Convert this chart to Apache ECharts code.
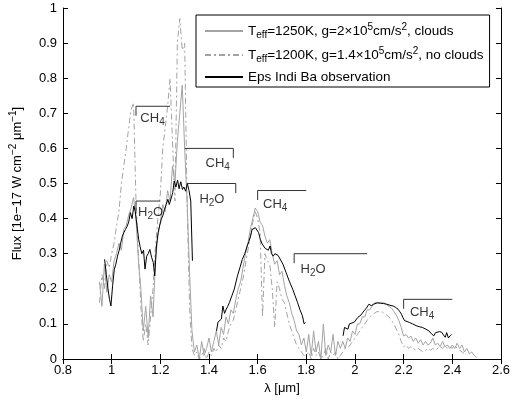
<!DOCTYPE html>
<html>
<head>
<meta charset="utf-8">
<script src="https://cdn.jsdelivr.net/npm/echarts@6/dist/echarts.min.js"></script>
<style>html,body{margin:0;padding:0;background:#fff}#main{width:513px;height:400px}</style>
</head>
<body>
<div id="main"></div>
<script>
// model spectra sampled every 0.01 um
var cloudStart = 0.95, nocloudStart = 0.95, step = 0.01;
var cloudFlux = [
	0.22,0.15,0.27,0.19,0.24,0.22,0.28,0.30,0.33,0.31,
	0.37,0.38,0.41,0.43,0.46,0.40,0.28,0.20,0.08,0.15,
	0.06,0.18,0.12,0.28,0.35,0.39,0.44,0.42,0.48,0.45,
	0.55,0.50,0.62,0.70,0.78,0.60,0.45,0.25,0.08,0.02,
	0.04,0.00,0.05,0.01,0.03,0.06,0.02,0.05,0.08,0.04,
	0.09,0.07,0.12,0.10,0.14,0.13,0.17,0.20,0.22,0.26,
	0.30,0.33,0.37,0.40,0.43,0.42,0.39,0.38,0.35,0.33,
	0.34,0.30,0.27,0.28,0.24,0.25,0.21,0.18,0.16,0.13,
	0.11,0.08,0.07,0.04,0.06,0.02,0.07,0.01,0.08,0.02,
	0.05,0.00,0.10,0.01,0.04,0.02,0.07,0.01,0.05,0.03,
	0.05,0.03,0.06,0.05,0.08,0.07,0.10,0.10,0.12,0.12,
	0.14,0.14,0.15,0.16,0.16,0.16,0.16,0.16,0.155,0.15,
	0.145,0.135,0.125,0.11,0.09,0.065,0.07,0.06,0.065,0.05,
	0.06,0.045,0.055,0.04,0.05,0.04,0.045,0.06,0.04,0.045,
	0.035,0.05,0.035,0.04,0.03,0.04,0.03,0.045,0.03,0.04,
	0.02,0.03,0.015,0.02,0.01,0.005
];
var nocloudFlux = [
	0.16,0.24,0.20,0.28,0.26,0.30,0.33,0.38,0.42,0.50,
	0.55,0.60,0.66,0.71,0.73,0.45,0.30,0.15,0.05,0.10,
	0.04,0.12,0.20,0.32,0.40,0.47,0.60,0.66,0.72,0.80,
	0.62,0.45,0.90,0.97,0.88,0.90,0.45,0.15,0.03,0.01,
	0.02,0.00,0.01,0.03,0.00,0.02,0.01,0.03,0.02,0.04,
	0.03,0.06,0.05,0.08,0.10,0.11,0.14,0.17,0.20,0.23,
	0.27,0.31,0.35,0.39,0.42,0.40,0.36,0.12,0.30,0.28,
	0.27,0.20,0.09,0.22,0.20,0.17,0.16,0.13,0.10,0.08,
	0.06,0.04,0.03,0.02,0.01,0.01,0.02,0.00,0.03,0.01,
	0.02,0.00,0.01,0.03,0.00,0.02,0.01,0.02,0.00,0.01,
	0.02,0.03,0.03,0.04,0.05,0.06,0.07,0.08,0.09,0.10,
	0.11,0.12,0.125,0.13,0.135,0.135,0.135,0.13,0.125,0.12,
	0.11,0.10,0.085,0.07,0.05,0.035,0.04,0.03,0.035,0.03,
	0.025,0.03,0.025,0.02,0.025,0.03,0.025,0.03,0.025,0.03,
	0.035,0.03,0.04,0.03,0.035,0.03,0.04,0.03,0.025,0.02,0.015
];
// Eps Indi Ba observation, three bands (J, H, K)
var obsJx = [0.971,0.978,0.985,0.991,0.997,1.004,1.011,1.017,1.024,1.031,1.037,1.044,1.050,1.057,1.064,1.070,1.077,1.084,1.091,1.097,1.104,1.111,1.117,1.124,1.131,1.137,1.144,1.150,1.157,1.164,1.171,1.177,1.184,1.191,1.197,1.204,1.211,1.217,1.224,1.231,1.237,1.244,1.251,1.257,1.264,1.271,1.277,1.284,1.291,1.297,1.304,1.311,1.318,1.325,1.332];
var obsJy = [0.284,0.24,0.20,0.17,0.151,0.21,0.256,0.27,0.293,0.31,0.33,0.35,0.36,0.369,0.379,0.39,0.417,0.40,0.436,0.421,0.38,0.341,0.32,0.30,0.31,0.256,0.293,0.30,0.312,0.29,0.275,0.237,0.322,0.36,0.38,0.398,0.41,0.426,0.44,0.455,0.44,0.436,0.474,0.507,0.49,0.51,0.485,0.505,0.483,0.49,0.478,0.50,0.48,0.45,0.28];
var obsHx = [1.431,1.437,1.444,1.451,1.457,1.464,1.471,1.477,1.484,1.494,1.504,1.517,1.527,1.537,1.547,1.557,1.564,1.571,1.577,1.584,1.591,1.597,1.604,1.611,1.617,1.624,1.631,1.637,1.644,1.651,1.657,1.664,1.671,1.677,1.684,1.691,1.704,1.717,1.731,1.744,1.754,1.764,1.774,1.784,1.791,1.797];
var obsHy = [0.08,0.105,0.10,0.114,0.151,0.13,0.142,0.15,0.161,0.18,0.199,0.237,0.26,0.284,0.30,0.322,0.335,0.35,0.369,0.365,0.374,0.37,0.36,0.341,0.33,0.322,0.315,0.317,0.31,0.322,0.30,0.293,0.30,0.303,0.295,0.293,0.27,0.246,0.22,0.199,0.18,0.161,0.14,0.123,0.10,0.104];
var obsKx = [1.951,1.957,1.964,1.971,1.977,1.984,1.997,2.011,2.024,2.037,2.047,2.057,2.067,2.077,2.091,2.104,2.117,2.131,2.144,2.157,2.167,2.177,2.184,2.191,2.197,2.204,2.214,2.224,2.237,2.251,2.264,2.277,2.291,2.304,2.314,2.324,2.331,2.337,2.347,2.357,2.364,2.371,2.377,2.384,2.391,2.397];
var obsKy = [0.066,0.09,0.095,0.085,0.10,0.099,0.105,0.118,0.125,0.137,0.145,0.156,0.152,0.156,0.16,0.159,0.158,0.156,0.153,0.151,0.147,0.142,0.135,0.128,0.118,0.109,0.107,0.104,0.10,0.095,0.092,0.09,0.085,0.08,0.072,0.066,0.075,0.071,0.078,0.076,0.068,0.062,0.075,0.06,0.066,0.07];
// absorption band markers
var bandFrom  = [1.10, 1.30, 1.31, 1.10, 1.60, 1.75, 2.20];
var bandTo    = [1.24, 1.50, 1.51, 1.20, 1.80, 2.05, 2.40];
var bandY     = [0.72, 0.60, 0.50, 0.45, 0.48, 0.30, 0.17];
var bandTick  = ['L', 'R', 'R', 'L', 'L', 'L', 'L'];
var bandMol   = ['CH4', 'CH4', 'H2O', 'H2O', 'CH4', 'H2O', 'CH4'];
var bandTextX = [1.168, 1.436, 1.412, 1.160, 1.672, 1.828, 2.276];
var bandTextY = [0.685, 0.557, 0.455, 0.418, 0.440, 0.256, 0.134];

var legendNames = ['cloudy', 'clear', 'obs'];
var legendText = {
	cloudy: '{t|T}{sb|eff}{t|=1250K, g=2×10}{sp|5}{t|cm/s}{sp|2}{t|, clouds}',
	clear: '{t|T}{sb|eff}{t|=1200K, g=1.4×10}{sp|5}{t|cm/s}{sp|2}{t|, no clouds}',
	obs: '{t|Eps Indi Ba observation}'
};

var font = 'Liberation Sans';
var gray = '#a3a3a3';

function modelData(start, arr) {
	var out = [];
	for (var i = 0; i < arr.length; i++) out.push([+(start + i * step).toFixed(2), arr[i]]);
	return out;
}
function pairs(xs, ys) {
	var out = [];
	for (var i = 0; i < xs.length; i++) out.push([xs[i], ys[i]]);
	return out;
}
var obsData = pairs(obsJx, obsJy).concat([[1.38, '-']], pairs(obsHx, obsHy), [[1.87, '-']], pairs(obsKx, obsKy));

function richFor(size) {
	return {
		t: {fontSize: size, fontFamily: font, color: '#000'},
		sb: {fontSize: 10, fontFamily: font, color: '#000', padding: [8, 0, 0, 0]},
		sp: {fontSize: 10, fontFamily: font, color: '#000', padding: [0, 0, 8, 0]}
	};
}
var richText = richFor(13);
function molLabel(m) {
	return m == 'CH4' ? '{t|CH}{sb|4}' : '{t|H}{sb|2}{t|O}';
}

var series = [
	{name: 'cloudy', type: 'line', data: modelData(cloudStart, cloudFlux), symbol: 'none', z: 2,
		lineStyle: {color: gray, width: 1}, itemStyle: {color: gray}},
	{name: 'clear', type: 'line', data: modelData(nocloudStart, nocloudFlux), symbol: 'none', z: 2,
		lineStyle: {color: gray, width: 1, type: [6, 3, 2, 3]}, itemStyle: {color: gray}},
	{name: 'obs', type: 'line', data: obsData, symbol: 'none', connectNulls: false, z: 3,
		lineStyle: {color: '#000', width: 1}, itemStyle: {color: '#000'}}
];
var tk = 0.027;
for (var b = 0; b < bandFrom.length; b++) {
	var pts = bandTick[b] == 'L'
		? [[bandFrom[b], bandY[b] - tk], [bandFrom[b], bandY[b]], [bandTo[b], bandY[b]]]
		: [[bandFrom[b], bandY[b]], [bandTo[b], bandY[b]], [bandTo[b], bandY[b] - tk]];
	series.push({type: 'line', data: pts, symbol: 'none', silent: true, z: 4,
		lineStyle: {color: '#333', width: 1}});
}
var labelData = [];
for (var b = 0; b < bandMol.length; b++) labelData.push({value: [bandTextX[b], bandTextY[b]], mol: bandMol[b]});
series.push({type: 'scatter', data: labelData, symbolSize: 0, silent: true, z: 5,
	label: {show: true, position: 'inside', formatter: function (p) { return molLabel(p.data.mol); }, rich: richText}});

var axisCommon = {
	type: 'value', splitLine: {show: false},
	axisLine: {lineStyle: {color: '#000', width: 1}},
	axisTick: {inside: true, length: 5, lineStyle: {color: '#000'}}
};

var chart = echarts.init(document.getElementById('main'), null, {renderer: 'canvas'});
chart.setOption({
	animation: false,
	backgroundColor: '#fff',
	grid: {left: 54, right: 10, top: 8, bottom: 40},
	xAxis: [
		Object.assign({}, axisCommon, {position: 'bottom', min: 0.8, max: 2.6, interval: 0.2,
			axisLabel: {color: '#000', fontSize: 13, fontFamily: font, margin: 5},
			name: 'λ [μm]', nameLocation: 'middle', nameGap: 23,
			nameTextStyle: {color: '#000', fontSize: 13, fontFamily: font}}),
		Object.assign({}, axisCommon, {position: 'top', min: 0.8, max: 2.6, interval: 0.2, axisLabel: {show: false}})
	],
	yAxis: [
		Object.assign({}, axisCommon, {position: 'left', min: 0, max: 1, interval: 0.1,
			axisLabel: {color: '#000', fontSize: 13, fontFamily: font, margin: 6},
			name: '{t|Flux [1e−17 W cm}{sp|−2}{t| μm}{sp|−1}{t|]}', nameLocation: 'middle', nameGap: 37, nameRotate: 90,
			nameTextStyle: {color: '#000', fontSize: 13, fontFamily: font, rich: richText}}),
		Object.assign({}, axisCommon, {position: 'right', min: 0, max: 1, interval: 0.1, axisLabel: {show: false}})
	],
	legend: {
		data: legendNames, orient: 'vertical', left: 196, top: 15,
		padding: [7, 6, 3, 8], itemGap: 6, itemWidth: 38, itemHeight: 12,
		backgroundColor: '#fff', borderColor: '#000', borderWidth: 1, borderRadius: 0,
		itemStyle: {opacity: 0},
		formatter: function (n) { return legendText[n]; },
		textStyle: {color: '#000', fontSize: 13.5, fontFamily: font, rich: richFor(13.5)}
	},
	series: series
});
</script>
</body>
</html>
